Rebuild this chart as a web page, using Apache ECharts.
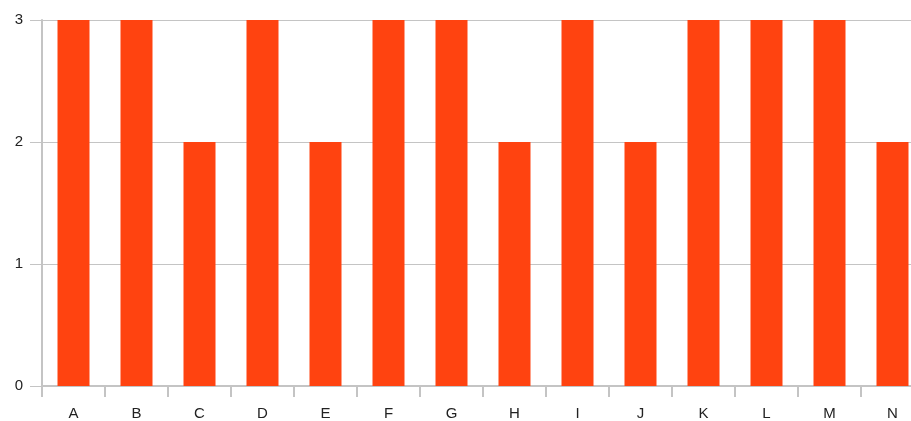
<!DOCTYPE html>
<html><head><meta charset="utf-8">
<script src="https://cdn.jsdelivr.net/npm/echarts@6/dist/echarts.min.js"></script>
<style>html,body{margin:0;padding:0;background:#fff}#c{width:911px;height:421px}</style>
</head><body><div id="c"></div>
<script>
const categories = ['A','B','C','D','E','F','G','H','I','J','K','L','M','N'];
const values = [3,3,2,3,2,3,3,2,3,2,3,3,3,2];
const yTicks = [0,1,2,3];
const chart = echarts.init(document.getElementById('c'), null, {renderer:'canvas'});
const axisColor = '#c4c4c4';
chart.setOption({
  animation:false,
  grid:{left:42,width:882,top:20,height:366,containLabel:false,outerBoundsMode:'none'},
  xAxis:{type:'category',data:categories,
    axisLine:{lineStyle:{color:axisColor,width:2}},
    axisTick:{show:true,length:11,lineStyle:{color:axisColor,width:2}},
    axisLabel:{color:'#222',fontFamily:'Liberation Sans',fontSize:15,margin:20}},
  yAxis:{type:'value',min:yTicks[0],max:yTicks[yTicks.length-1],interval:1,
    axisLine:{show:true,lineStyle:{color:axisColor,width:2}},
    axisTick:{show:true,length:12,lineStyle:{color:axisColor,width:1}},
    splitLine:{show:true,lineStyle:{color:axisColor,width:1}},
    axisLabel:{color:'#222',fontFamily:'Liberation Sans',fontSize:15,margin:19}},
  series:[{type:'bar',data:values,barWidth:32,itemStyle:{color:'#ff4310'}}]
});
</script></body></html>
